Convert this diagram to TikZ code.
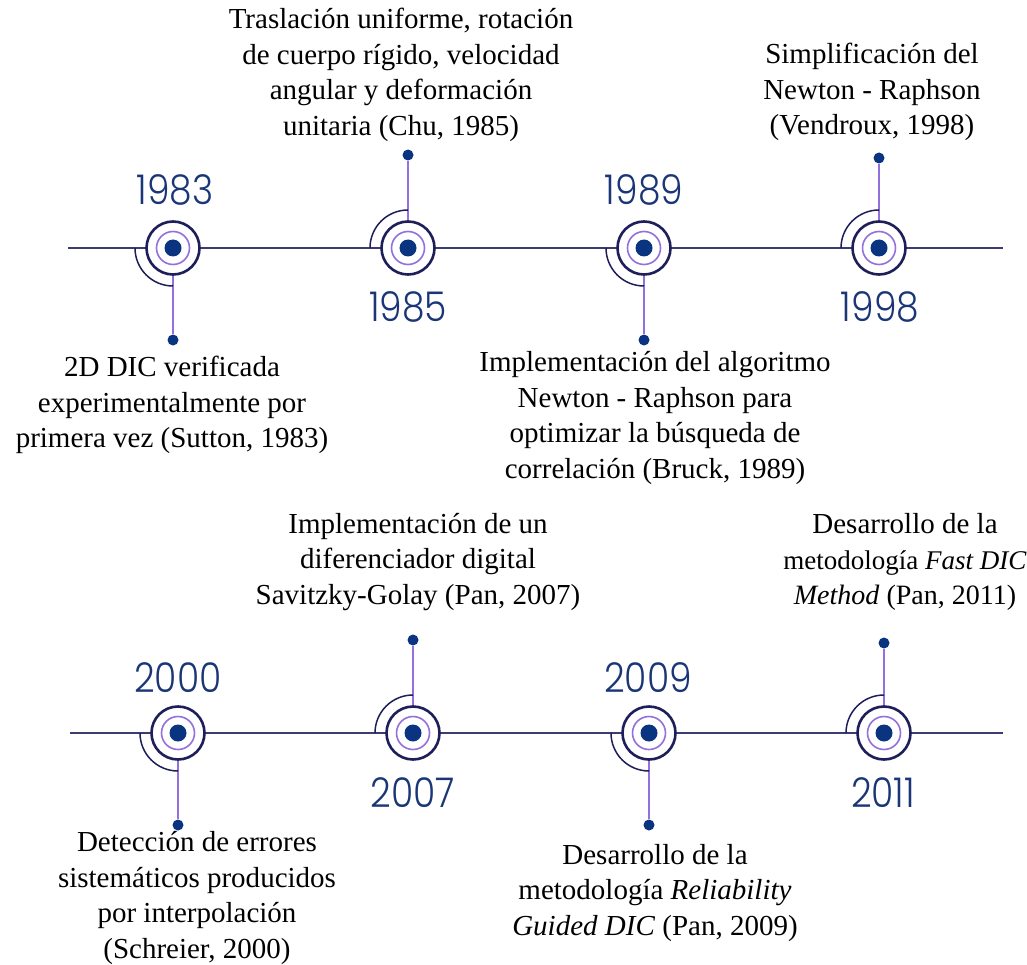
\documentclass[tikz,border=0pt]{standalone}
\usepackage{fontspec}
\setmainfont{Liberation Serif}
\newfontfamily\yearfont[FakeStretch=0.88]{Poppins Light}
\usetikzlibrary{calc}
\definecolor{navy}{HTML}{1E1E5A}
\definecolor{lilac}{HTML}{9370DB}
\definecolor{dotblue}{HTML}{0A3480}
\definecolor{yearblue}{HTML}{1B3677}
\definecolor{linec}{HTML}{3C3C70}
\tikzset{
  ring/.style={circle, draw=navy, line width=2.6pt, fill=white, minimum size=53pt, inner sep=0pt},
  inring/.style={circle, draw=lilac, line width=1.6pt, minimum size=33pt, inner sep=0pt},
  cdot/.style={circle, fill=dotblue, minimum size=17pt, inner sep=0pt},
  sdot/.style={circle, fill=dotblue, minimum size=11pt, inner sep=0pt},
  stemline/.style={draw=lilac, line width=1.6pt},
  arcline/.style={draw=navy, line width=1.5pt},
  axisline/.style={draw=linec, line width=1.5pt},
  year/.style={font=\yearfont\fontsize{41}{45}\selectfont, text=yearblue, inner sep=0pt},
  desc/.style={font=\fontsize{29}{35.5}\selectfont, align=center, text=black, inner sep=0pt}
}
\begin{document}
\begin{tikzpicture}[x=1pt,y=-1pt]
\useasboundingbox (0,0) rectangle (1027,965);
% axes
\coordinate (L1) at (68,248); \coordinate (R1) at (1003,248);
\coordinate (L2) at (70,733); \coordinate (R2) at (1003,733);
\draw[axisline] (L1) -- (R1);
\draw[axisline] (L2) -- (R2);

% stem dots
\node[sdot] (s1) at (173,340) {};
\node[sdot] (s2) at (408,155) {};
\node[sdot] (s3) at (644,340) {};
\node[sdot] (s4) at (879,158) {};
\node[sdot] (s5) at (178,825) {};
\node[sdot] (s6) at (413,640) {};
\node[sdot] (s7) at (649,825) {};
\node[sdot] (s8) at (884,643) {};

% centers
\coordinate (c1) at (173,248);
\coordinate (c2) at (408,248);
\coordinate (c3) at (644,248);
\coordinate (c4) at (879,248);
\coordinate (c5) at (178,733);
\coordinate (c6) at (413,733);
\coordinate (c7) at (649,733);
\coordinate (c8) at (884,733);

% stems
\foreach \i in {1,...,8} { \draw[stemline] (c\i) -- (s\i); }

% arcs (down for 1,3,5,7; up for 2,4,6,8)
\foreach \i in {1,3,5,7} { \draw[arcline] ($(c\i)+(-38pt,0)$) arc[start angle=180, end angle=270, radius=38pt]; }
\foreach \i in {2,4,6,8} { \draw[arcline] ($(c\i)+(-38pt,0)$) arc[start angle=180, end angle=90, radius=38pt]; }

% rings
\foreach \i in {1,...,8} {
  \node[ring] (o\i) at (c\i) {};
  \node[inring] (n\i) at (c\i) {};
  \node[cdot] (m\i) at (c\i) {};
}

% years
\node[year] (y1) at (175,190) {1983};
\node[year] (y2) at (408,307) {1985};
\node[year] (y3) at (644,190) {1989};
\node[year] (y4) at (880,307) {1998};
\node[year] (y5) at (178,678) {2000};
\node[year] (y6) at (413,793) {2007};
\node[year] (y7) at (648,678) {2009};
\node[year] (y8) at (883,793) {2011};

% descriptions
\node[desc] (d1) at (172,405) {2D DIC verificada\\experimentalmente por\\primera vez (Sutton, 1983)};
\node[desc] (d2) at (401,75) {Traslación uniforme, rotación\\de cuerpo rígido, velocidad\\angular y deformación\\unitaria (Chu, 1985)};
\node[desc] (d3) at (655,418) {Implementación del algoritmo\\Newton - Raphson para\\optimizar la búsqueda de\\correlación (Bruck, 1989)};
\node[desc] (d4) at (872,92) {Simplificación del\\Newton - Raphson\\(Vendroux, 1998)};
\node[desc] (d5) at (418,562) {Implementación de un\\diferenciador digital\\Savitzky-Golay (Pan, 2007)};
\node[desc] (d6) at (905,562) {Desarrollo de la\\{\fontsize{27}{35.5}\selectfont metodología \textit{Fast DIC}}\\{\fontsize{28}{35.5}\selectfont\textit{Method} (Pan, 2011)}};
\node[desc] (d7) at (197,898) {Detección de errores\\sistemáticos producidos\\por interpolación\\(Schreier, 2000)};
\node[desc] (d8) at (655,893) {Desarrollo de la\\metodología \textit{Reliability}\\\textit{Guided DIC} (Pan, 2009)};
\end{tikzpicture}
\end{document}
